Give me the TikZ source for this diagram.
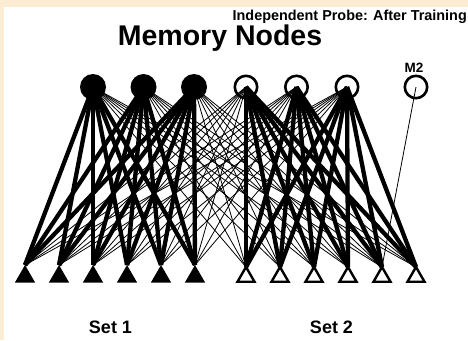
\documentclass[tikz,border=0pt]{standalone}
\usepackage{fontspec}
\setmainfont{Liberation Sans}
\usetikzlibrary{shapes.geometric}
\definecolor{parch}{RGB}{252,236,210}
\begin{document}
\begin{tikzpicture}[x=1pt,y=-1pt,
  mem/.style={circle, inner sep=0pt, outer sep=0pt},
  memfull/.style={mem, fill=black, minimum size=26pt},
  memopen/.style={mem, draw=black, line width=2.6pt, minimum size=22.4pt},
  inp/.style={regular polygon, regular polygon sides=3, inner sep=0pt, outer sep=0pt, anchor=corner 1},
  inpfull/.style={inp, fill=black, minimum size=23.6pt},
  inpopen/.style={inp, draw=black, line width=2.4pt, minimum size=19.6pt},
  strong/.style={line width=4.3pt},
  weak/.style={line width=0.8pt},
  lbl/.style={font=\bfseries, inner sep=0pt, anchor=base}
]
\useasboundingbox (0,0) rectangle (468,340);
\fill[parch] (0,0) rectangle (468,340);
\fill[white] (4,7) rectangle (468,340);

% memory nodes
\node[memfull] (f1) at (93,87) {};
\node[memfull] (f2) at (143.5,87) {};
\node[memfull] (f3) at (194,87) {};
\node[memopen] (o1) at (246,87) {};
\node[memopen] (o2) at (296.5,87) {};
\node[memopen] (o3) at (347,87) {};
\node[memopen] (m2) at (416,87) {};

% input nodes
\foreach \k in {1,...,6} {
  \node[inpfull] (a\k) at ({25+34*(\k-1)},265) {};
  \node[inpopen] (b\k) at ({246+34*(\k-1)},267) {};
}

% connections
\foreach \m in {f1,f2,f3} {
  \foreach \k in {1,...,6} {
    \draw[strong] (\m.center) -- (a\k.corner 1);
    \draw[weak] (\m.center) -- (b\k.corner 1);
  }
}
\foreach \m in {o1,o2,o3} {
  \foreach \k in {1,...,6} {
    \draw[strong] (\m.center) -- (b\k.corner 1);
    \draw[weak] (\m.center) -- (a\k.corner 1);
  }
}
\draw[weak] (m2.center) -- (b5.corner 1);

% labels
\node[lbl, font=\fontsize{14.4}{16}\selectfont\bfseries, anchor=base east] (title) at (467,20) {Independent Probe: After Training};
\node[lbl, font=\fontsize{28.5}{32}\selectfont\bfseries] (memlbl) at (220,45) {Memory Nodes};
\node[lbl, font=\fontsize{13.5}{15}\selectfont\bfseries] (m2lbl) at (414,72) {M2};
\node[lbl, font=\fontsize{18}{20}\selectfont\bfseries] (set1) at (110.5,333) {Set 1};
\node[lbl, font=\fontsize{18}{20}\selectfont\bfseries] (set2) at (331.5,333) {Set 2};
\end{tikzpicture}
\end{document}
